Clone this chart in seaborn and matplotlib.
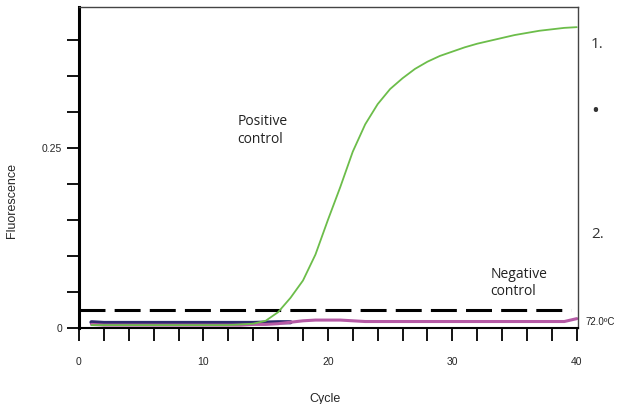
import numpy as np
import pandas as pd
import matplotlib
matplotlib.use("Agg")
import matplotlib.pyplot as plt
import seaborn as sns

# ---- data ----
cycles = list(range(1, 41))
positive = [0.004, 0.004, 0.004, 0.004, 0.004, 0.004, 0.004, 0.004, 0.004, 0.004,
            0.004, 0.004, 0.005, 0.006, 0.010, 0.022, 0.042, 0.066, 0.102, 0.150,
            0.196, 0.245, 0.283, 0.311, 0.332, 0.347, 0.360, 0.370, 0.378, 0.384,
            0.390, 0.395, 0.399, 0.403, 0.407, 0.410, 0.413, 0.415, 0.417, 0.418]
negative = [0.005, 0.004, 0.004, 0.004, 0.004, 0.004, 0.004, 0.004, 0.004, 0.004,
            0.004, 0.004, 0.004, 0.005, 0.005, 0.006, 0.008, 0.010, 0.011, 0.011,
            0.011, np.nan, 0.009, 0.009, 0.009, 0.009, 0.009, 0.009, 0.009, 0.009,
            0.009, 0.009, 0.009, 0.009, 0.009, 0.009, 0.009, 0.009, 0.009, 0.013]
background = [0.008, 0.007, 0.007, np.nan, np.nan, np.nan, np.nan, np.nan, np.nan, np.nan,
              0.007, 0.007, 0.007, 0.007, np.nan, 0.008, 0.008, np.nan, np.nan, np.nan,
              np.nan, np.nan, np.nan, np.nan, np.nan, np.nan, np.nan, np.nan, np.nan, np.nan,
              np.nan, np.nan, np.nan, np.nan, np.nan, np.nan, np.nan, np.nan, np.nan, np.nan]
threshold = 0.025
x_ticks = [0, 10, 20, 30, 40]
x_minor = [2, 4, 6, 8, 12, 14, 16, 18, 22, 24, 26, 28, 32, 34, 36, 38]
y_ticks = [0, 0.05, 0.10, 0.15, 0.20, 0.25, 0.30, 0.35, 0.40]
y_labels = ["0", "", "", "", "", "0.25", "", "", ""]

df = pd.DataFrame({"Cycle": cycles, "positive": positive,
                   "negative": negative, "background": background})

sns.set_style("white")
plt.rcParams["font.family"] = ["Liberation Sans", "DejaVu Sans"]

fig = plt.figure(figsize=(6.23, 4.04), dpi=100)
ax = fig.add_axes([79 / 623, 1 - 328 / 404, 499 / 623, 321 / 404])

sns.lineplot(data=df, x="Cycle", y="background", ax=ax, color="#2c2a6e", lw=3.0)
sns.lineplot(data=df, x="Cycle", y="negative", ax=ax, color="#b55aa5", lw=2.2)
ax.axhline(threshold, xmin=0.0, xmax=0.985, color="black", lw=2.2, dashes=(8.5, 3.0))
sns.lineplot(data=df, x="Cycle", y="positive", ax=ax, color="#6cbd4a", lw=1.3)

ax.set_xlim(0.0, 40.1)
ax.set_ylim(0, 0.446)

ax.set_xticks(x_ticks)
ax.set_xticks(x_minor, minor=True)
ax.set_yticks(y_ticks)
ax.set_yticklabels(y_labels)
ax.tick_params(axis="x", which="both", direction="out", length=9, width=1.3,
               color="black", pad=12, labelsize=7.5, bottom=True)
ax.tick_params(axis="y", which="both", direction="out", length=9, width=1.3,
               color="black", pad=3, labelsize=7.5, left=True)
ax.tick_params(axis="x", which="major", length=0)
ax.tick_params(axis="x", which="minor", length=9)
ax.set_xticks([10, 20, 30, 40], minor=False)
ax.set_xticks(x_ticks)
ax.tick_params(axis="x", which="major", length=9)

for s in ["top", "right"]:
    ax.spines[s].set_color("#444444")
    ax.spines[s].set_linewidth(1.0)
ax.spines["left"].set_color("black")
ax.spines["left"].set_linewidth(2.2)
ax.spines["bottom"].set_color("black")
ax.spines["bottom"].set_linewidth(1.5)

ax.set_xlabel("Cycle", fontsize=9)
ax.set_ylabel("Fluorescence", fontsize=9)
ax.xaxis.set_label_coords((325 - 79) / 499, (328 - 393) / 321)
ax.yaxis.set_label_coords((18 - 79) / 499, (328 - 200) / 321)

calib = ["Open Sans", "DejaVu Sans"]
ax.text(0.318, 0.615, "Positive\ncontrol", transform=ax.transAxes, fontsize=10,
        family=calib, color="#222222", linespacing=1.2, va="center", ha="left")
ax.text(0.825, 0.14, "Negative\ncontrol", transform=ax.transAxes, fontsize=10,
        family=calib, color="#222222", linespacing=1.2, va="center", ha="left")

fig.text(585 / 623, 1 - 322 / 404, "72.0ºC", fontsize=7, va="center", ha="left",
         color="#222222")
fig.text(591 / 623, 1 - 45 / 404, "1.", fontsize=11, va="center", ha="left",
         family=calib, color="#333333")
fig.text(591 / 623, 1 - 111 / 404, "•", fontsize=15, va="center", ha="left",
         family=calib, color="#333333")
fig.text(591 / 623, 1 - 235 / 404, "2.", fontsize=11, va="center", ha="left",
         family=calib, color="#333333")

fig.savefig("out.png", dpi=100)
